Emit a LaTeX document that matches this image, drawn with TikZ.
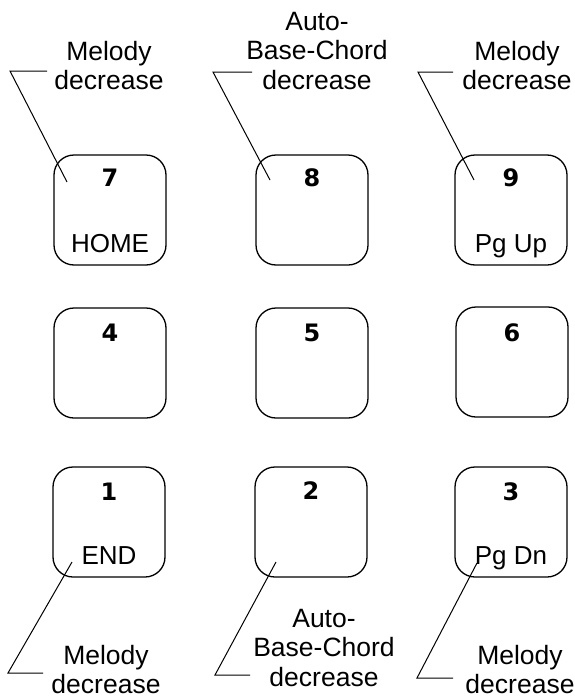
\documentclass[tikz,border=0pt]{standalone}
\usepackage{fontspec}
\setmainfont{Liberation Sans}
\newfontfamily\digitfont{DejaVu Sans}
\tikzset{
  keycap/.style={draw, line width=1.3pt, rounded corners=20pt,
    minimum width=112pt, minimum height=110pt, inner sep=0pt},
  keynum/.style={font=\digitfont\bfseries\fontsize{24}{28}\selectfont, inner sep=0pt},
  keyname/.style={font=\fontsize{26}{30}\selectfont, inner sep=0pt, anchor=base},
  caption/.style={font=\fontsize{26.5}{29.5}\selectfont, align=center,
    inner sep=0pt, anchor=north},
  leader/.style={line width=1pt},
}
\begin{document}
\begin{tikzpicture}[x=1pt,y=-1pt]
\useasboundingbox (0,0) rectangle (575,699);

% keypad: three rows of three keys
\node[keycap] (k7) at (110,210) {};
\node[keycap] (k8) at (312,210) {};
\node[keycap] (k9) at (511,210) {};
\node[keycap] (k4) at (110,363) {};
\node[keycap] (k5) at (312,363) {};
\node[keycap] (k6) at (512,362) {};
\node[keycap] (k1) at (109,522) {};
\node[keycap] (k2) at (311,522) {};
\node[keycap] (k3) at (511,522) {};

% digits on the keys
\node[keynum] (n7) at (110,178) {7};
\node[keynum] (n8) at (312,178) {8};
\node[keynum] (n9) at (511,178) {9};
\node[keynum] (n4) at (110,333) {4};
\node[keynum] (n5) at (312,333) {5};
\node[keynum] (n6) at (512,333) {6};
\node[keynum] (n1) at (109,492) {1};
\node[keynum] (n2) at (311,491) {2};
\node[keynum] (n3) at (511,492) {3};

% secondary key functions
\node[keyname] (f7) at (110,252) {HOME};
\node[keyname] (f9) at (511,252) {Pg Up};
\node[keyname] (f1) at (109,564) {END};
\node[keyname] (f3) at (511,564) {Pg Dn};

% captions
\node[caption] (c7) at (109,41) {Melody\\decrease};
\node[caption] (c8) at (317,12) {Auto-\\Base-Chord\\decrease};
\node[caption] (c9) at (517,41) {Melody\\decrease};
\node[caption] (c1) at (106,645) {Melody\\decrease};
\node[caption] (c2) at (324,609) {Auto-\\Base-Chord\\decrease};
\node[caption] (c3) at (520,645) {Melody\\decrease};

% leader lines: start, elbow, tip inside key
\coordinate (s7) at (47,71);  \coordinate (e7) at (10,71);  \coordinate (t7) at (67,182);
\coordinate (s8) at (252,72); \coordinate (e8) at (213,72); \coordinate (t8) at (270,180);
\coordinate (s9) at (453,72); \coordinate (e9) at (418,72); \coordinate (t9) at (474,180);
\coordinate (s1) at (43,673); \coordinate (e1) at (8,673);  \coordinate (t1) at (72,562);
\coordinate (s2) at (250,675);\coordinate (e2) at (215,675);\coordinate (t2) at (276,562);
\coordinate (s3) at (453,678);\coordinate (e3) at (417,678);\coordinate (t3) at (477,563);

\foreach \k in {7,8,9,1,2,3}
  \draw[leader] (s\k) -- (e\k) -- (t\k);
\end{tikzpicture}
\end{document}
